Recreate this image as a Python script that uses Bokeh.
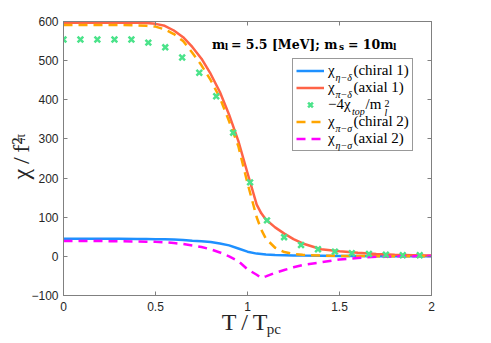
from bokeh.plotting import figure
from bokeh.models import (Legend, LegendItem, Label, LinearAxis, Range1d,
                          FixedTicker, CustomJSTickFormatter)
from bokeh.embed import file_html
from bokeh.resources import INLINE

# ---- data ----
T = [0, 0.1, 0.2, 0.3, 0.4, 0.45, 0.5, 0.55, 0.6, 0.65, 0.7, 0.75, 0.8, 0.85, 0.9,
     0.95, 1.0, 1.05, 1.075, 1.1, 1.15, 1.2, 1.25, 1.3, 1.4, 1.5, 1.6, 1.7, 1.8, 1.9, 2.0]
chi_eta_delta = [45, 45, 45, 45, 44.5, 44.3, 44, 43.5, 43, 42, 40, 38.5, 36.5, 33, 28,
                 20, 12, 7, 6, 4.5, 3.5, 3, 2.5, 2, 1.5, 1, 1, 0.5, 0.5, 0.3, 0.2]
chi_pi_delta = [597, 597, 597, 597, 597, 596, 594, 589, 577, 560, 535, 505, 466, 420, 362,
                295, 213, 132, 110, 94, 74, 58, 44, 33, 18, 13, 9, 6, 4, 3, 2]
chi_pi_sigma = [591, 591, 591, 591, 590, 589, 587, 580, 568, 550, 520, 488, 450, 405, 345,
                282, 187, 100, 68, 45, 22, 11, 6, 4, 2, 1, 1, 0.5, 0.5, 0.3, 0.2]
chi_eta_sigma = [39, 39, 39, 38.5, 38, 37.5, 37, 36, 34, 31.5, 28, 24, 18, 10, 0,
                 -12, -33, -47, -55, -51, -42, -35, -28, -22, -15, -8, -4, -1, 0, 0.5, 1]
T_top = [0, 0.092, 0.184, 0.277, 0.369, 0.461, 0.553, 0.645, 0.738, 0.830, 0.922,
         1.014, 1.106, 1.199, 1.291, 1.383, 1.475, 1.567, 1.660, 1.752, 1.844, 1.936]
chi_top = [554, 554, 554, 554, 554, 546, 534, 508, 469, 409, 316,
           189, 92, 49, 29, 18, 12, 8, 6, 4, 3, 3]
x_ticks = [0, 0.5, 1, 1.5, 2]
y_ticks = [-100, 0, 100, 200, 300, 400, 500, 600]

NB = "\u00a0"
TH = "\u2009"
legend_main = ["χ" + NB * 5 + "(chiral 1)", "χ" + NB * 5 + "(axial 1)",
               "−4χ" + NB * 4 + "/m" + NB * 2,
               "χ" + NB * 5 + "(chiral 2)", "χ" + NB * 5 + "(axial 2)"]
legend_subs = ["η−δ", "π−δ", "top", "π−σ", "η−σ"]

BLUE = "#1e90ff"
RED = "#ff6347"
GREEN = "#4be38a"
ORANGE = "#ffa500"
MAGENTA = "#ff00ff"
AXIS = "#808080"
TXT = "#262626"
SERIF = "Liberation Serif"
SANS = "Liberation Sans"

FL, FT, FW, FH = 63, 21, 368, 274   # frame left/top/width/height in canvas px
W, H = 480, 342

p = figure(width=W, height=H, output_backend="svg", toolbar_location=None,
           x_range=Range1d(0, 2), y_range=Range1d(-100, 600),
           min_border_left=FL, min_border_right=W - FL - FW, min_border_top=FT,
           min_border_bottom=H - FT - FH)
p.grid.visible = False
p.outline_line_color = AXIS
p.background_fill_color = "white"
p.border_fill_color = "white"


def tidy(ax):
    ax.major_tick_in = 4
    ax.major_tick_out = 0
    ax.minor_tick_in = 0
    ax.minor_tick_out = 0
    ax.minor_tick_line_color = None
    ax.axis_line_color = AXIS
    ax.major_tick_line_color = AXIS


p.xaxis.ticker = FixedTicker(ticks=x_ticks)
p.yaxis.ticker = FixedTicker(ticks=y_ticks)
for ax in (p.xaxis[0], p.yaxis[0]):
    tidy(ax)
    ax.major_label_text_font = SANS
    ax.major_label_text_font_size = "12px"
    ax.major_label_text_color = TXT
    ax.axis_label_text_font = SERIF
    ax.axis_label_text_font_style = "normal"
    ax.axis_label_text_color = TXT
p.xaxis.major_label_standoff = 6
p.yaxis.major_label_standoff = 5

# x label main part "T/T" on the bottom axis
p.xaxis.axis_label = "T" + TH + "/" + TH + "T" + NB
p.xaxis.axis_label_text_font_size = "24px"
p.xaxis.axis_label_standoff = -5
# y label: the subscript pi sits next to the tick labels
p.yaxis.axis_label = NB * 12 + "π"
p.yaxis.axis_label_text_font_size = "14px"
p.yaxis.axis_label_standoff = 0

blank = CustomJSTickFormatter(code="return ''")
top_ax = LinearAxis(ticker=FixedTicker(ticks=x_ticks), formatter=blank)
right_ax = LinearAxis(ticker=FixedTicker(ticks=y_ticks), formatter=blank)
for ax in (top_ax, right_ax):
    tidy(ax)
    ax.major_label_text_font_size = "1px"
    ax.major_label_standoff = 0
p.add_layout(top_ax, "above")
p.add_layout(right_ax, "right")


def text_axis(side, text, size, standoff):
    """An axis with no ticks, used only to carry one piece of the axis title."""
    ax = LinearAxis(ticker=FixedTicker(ticks=[]), axis_label=text)
    tidy(ax)
    ax.axis_line_color = None
    ax.major_tick_line_color = None
    ax.major_tick_in = 0
    ax.major_label_standoff = 0
    ax.major_label_text_font_size = "0px"
    ax.axis_label_standoff = standoff
    ax.axis_label_text_font = SERIF
    ax.axis_label_text_font_style = "normal"
    ax.axis_label_text_font_size = f"{size}px"
    ax.axis_label_text_color = TXT
    p.add_layout(ax, side)


text_axis("below", NB * 14 + "pc", 15, -17)
text_axis("left", "χ" + TH + "/" + TH + "f²", 24, -23)

r_blue = p.line(T, chi_eta_delta, line_color=BLUE, line_width=2.5)
r_red = p.line(T, chi_pi_delta, line_color=RED, line_width=2.5)
r_orange = p.line(T, chi_pi_sigma, line_color=ORANGE, line_width=2.5, line_dash="9 6")
r_mag = p.line(T, chi_eta_sigma, line_color=MAGENTA, line_width=2.5, line_dash="9 6")
r_green = p.scatter(T_top, chi_top, marker="x", size=8, line_width=2.5,
                    line_color=GREEN)

renderers = [r_blue, r_red, r_green, r_orange, r_mag]
items = [LegendItem(label=legend_main[i], renderers=[renderers[i]]) for i in range(5)]
LEG_X, LEG_Y = 292 - FL, FT + FH - 151
legend = Legend(items=items, location=(LEG_X, LEG_Y))
legend.label_text_font = SERIF
legend.label_text_font_size = "15px"
legend.label_text_color = "black"
legend.border_line_color = "#333333"
legend.border_line_width = 1
legend.background_fill_alpha = 0      # transparent so the script labels show
legend.padding = 3
legend.spacing = 0
legend.margin = 0
legend.glyph_width = 28
legend.glyph_height = 17
legend.label_height = 17
legend.label_standoff = 4
p.add_layout(legend)


def lab(text, px, py, size, style="normal", font=SERIF, baseline="alphabetic"):
    """px, py are page pixel positions; converted to frame-relative screen units."""
    p.add_layout(Label(x=px - FL, y=FT + FH - py, x_units="screen", y_units="screen",
                       text=text, text_font=font, text_font_size=f"{size}px",
                       text_font_style=style, text_color="black",
                       text_baseline=baseline))


# legend subscripts / superscripts
LX = 292 + 3 + 28 + 4
rows = [72.5, 89.5, 106.5, 123.5, 140.5]
for i, sub in enumerate(legend_subs):
    if i == 2:
        lab(sub, LX + 24.5, rows[i] + 4, 10, style="italic", baseline="middle")
        lab("2", LX + 57, rows[i] - 4, 10, baseline="middle")
        lab("l", LX + 57, rows[i] + 5, 10, style="italic", baseline="middle")
    else:
        lab(sub, LX + 8, rows[i] + 4, 10, style="italic", baseline="middle")

# title annotation  m_l = 5.5 [MeV]; m_s = 10 m_l
TF = "DejaVu Serif"
lab("m", 211.5, 43.5, 12.5, style="bold", font=TF)
lab("l", 224.3, 46.5, 9, style="bold", font=TF)
lab("= 5.5 [MeV]; m", 230.5, 43.5, 12.5, style="bold", font=TF)
lab("s", 338.5, 46.5, 9, style="bold", font=TF)
lab("= 10m", 347.5, 43.5, 12.5, style="bold", font=TF)
lab("l", 392.5, 46.5, 9, style="bold", font=TF)

open("out.html", "w").write(file_html(p, INLINE))
